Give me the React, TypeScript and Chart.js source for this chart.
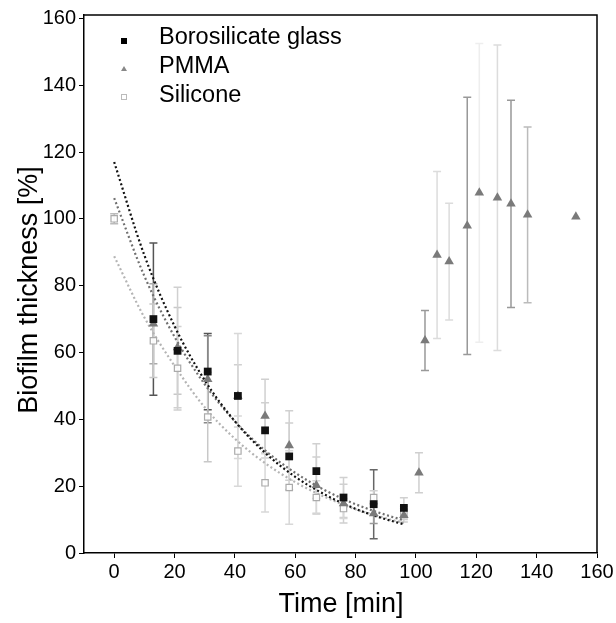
import React, { useEffect, useRef } from 'react';
import { Chart, registerables } from 'chart.js';

Chart.register(...registerables);

const FONT = '"Liberation Sans", Arial, Helvetica, sans-serif';

const xTicks = [0, 20, 40, 60, 80, 100, 120, 140, 160];
const yTicks = [0, 20, 40, 60, 80, 100, 120, 140, 160];

const legendLabels = ['Borosilicate glass', 'PMMA', 'Silicone'];
const xTitle = 'Time [min]';
const yTitle = 'Biofilm thickness [%]';

// Borosilicate glass
const glassTime = [13, 21, 31, 41, 50, 58, 67, 76, 86, 96];
const glassValue = [70, 60.5, 54.3, 47, 36.7, 28.9, 24.5, 16.6, 14.6, 13.5];
const glassError = [22.8, 13, 11.4, 9.3, 8.3, 10, 8.2, 6, 10.3, 3];
const glassErrorColor = ['#555', '#c8c8c8', '#555', '#d0d0d0', '#d0d0d0', '#d0d0d0', '#d0d0d0', '#d0d0d0', '#666', '#d0d0d0'];

// PMMA
const pmmaTime = [13, 21, 31, 41, 50, 58, 67, 76, 86, 96, 101, 103, 107, 111, 117, 121, 127, 131.5, 137, 153];
const pmmaValue = [68.6, 61.5, 52, 47, 41, 32.2, 20.3, 14.8, 11.8, 11.3, 24, 63.6, 89.2, 87.2, 97.9, 107.8, 106.3, 104.5, 101.2, 100.6];
const pmmaError = [12, 18, 13, 18.7, 11, 10.4, 8.4, 5.8, 3, 2, 6, 9, 25, 17.5, 38.5, 44.7, 45.7, 31, 26.3, 0];
const pmmaErrorColor = ['#aaa', '#d0d0d0', '#888', '#d8d8d8', '#d0d0d0', '#d0d0d0', '#d0d0d0', '#d0d0d0', '#999', '#d0d0d0', '#cfcfcf', '#999', '#dcdcdc', '#dcdcdc', '#999', '#eeeeee', '#dcdcdc', '#999', '#bbb', '#ccc'];

// Silicone
const siliconeTime = [0, 13, 21, 31, 41, 50, 58, 67, 76, 86, 96];
const siliconeValue = [100, 63.5, 55.3, 40.7, 30.5, 21, 19.6, 16.6, 13.3, 16.6, 12];
const siliconeError = [1.5, 11, 12.5, 13.4, 10.5, 8.7, 11, 5, 3, 2, 2];
const siliconeErrorColor = ['#bbb', '#c8c8c8', '#d0d0d0', '#c8c8c8', '#d8d8d8', '#d8d8d8', '#d8d8d8', '#d8d8d8', '#d8d8d8', '#d0d0d0', '#d0d0d0'];

// Fitted decay curves
const fitTime = [0, 10, 20, 30, 40, 50, 60, 70, 80, 90, 96];
const glassFit = [117, 89.1, 67.9, 51.7, 39.4, 30.0, 22.8, 17.4, 13.2, 10.1, 8.6];
const pmmaFit = [106.2, 82.9, 64.7, 50.5, 39.4, 30.7, 24.0, 18.7, 14.6, 11.4, 9.8];
const siliconeFit = [88.8, 70.5, 56.0, 43.6, 34.2, 26.9, 21.2, 16.7, 13.1, 10.4, 9.0];

const toXY = (xs: number[], ys: number[]) => xs.map((x, i) => ({ x, y: ys[i] }));

const errorBarPlugin = {
  id: 'errorBars',
  beforeDatasetsDraw(chart: any) {
    const { ctx, scales } = chart;
    const xs = scales.x;
    const ys = scales.y;
    ctx.save();
    chart.data.datasets.forEach((ds: any) => {
      if (!ds.errors) return;
      ds.data.forEach((p: any, i: number) => {
        const e = ds.errors[i];
        if (!e) return;
        const px = xs.getPixelForValue(p.x);
        const y1 = ys.getPixelForValue(p.y + e);
        const y2 = ys.getPixelForValue(p.y - e);
        ctx.strokeStyle = ds.errorColors[i];
        ctx.lineWidth = 1.5;
        ctx.beginPath();
        ctx.moveTo(px, y1);
        ctx.lineTo(px, y2);
        ctx.moveTo(px - 4, y1);
        ctx.lineTo(px + 4, y1);
        ctx.moveTo(px - 4, y2);
        ctx.lineTo(px + 4, y2);
        ctx.stroke();
      });
    });
    ctx.restore();
  },
};

const decorPlugin = {
  id: 'decor',
  afterDraw(chart: any) {
    const { ctx, chartArea } = chart;
    ctx.save();
    // frame top/right
    ctx.strokeStyle = '#000';
    ctx.lineWidth = 1.5;
    ctx.beginPath();
    ctx.moveTo(chartArea.left, chartArea.top);
    ctx.lineTo(chartArea.right, chartArea.top);
    ctx.lineTo(chartArea.right, chartArea.bottom);
    ctx.stroke();

    // axis titles
    ctx.fillStyle = '#000';
    ctx.font = `27px ${FONT}`;
    ctx.textAlign = 'center';
    ctx.textBaseline = 'middle';
    ctx.fillText(xTitle, 341, 605);
    ctx.save();
    ctx.translate(30, 290);
    ctx.rotate(-Math.PI / 2);
    ctx.fillText(yTitle, 0, 0);
    ctx.restore();

    // legend
    const baselines = [44, 73, 102];
    const mx = 124;
    ctx.font = `23.5px ${FONT}`;
    ctx.textAlign = 'left';
    ctx.textBaseline = 'alphabetic';
    legendLabels.forEach((lab, i) => {
      ctx.fillStyle = '#000';
      ctx.fillText(lab, 159, baselines[i]);
    });
    // markers
    let my = baselines[0] - 3;
    ctx.fillStyle = '#000';
    ctx.fillRect(mx - 3, my - 3, 6, 6);
    my = baselines[1] - 4;
    ctx.fillStyle = '#888';
    ctx.beginPath();
    ctx.moveTo(mx, my - 3);
    ctx.lineTo(mx + 3, my + 2);
    ctx.lineTo(mx - 3, my + 2);
    ctx.closePath();
    ctx.fill();
    my = baselines[2] - 5;
    ctx.strokeStyle = '#bbb';
    ctx.lineWidth = 1;
    ctx.strokeRect(mx - 2.5, my - 2.5, 5, 5);
    ctx.restore();
  },
};

export default function App() {
  const ref = useRef<HTMLCanvasElement | null>(null);

  useEffect(() => {
    if (!ref.current) return;
    const chart = new Chart(ref.current, {
      type: 'scatter',
      data: {
        datasets: [
          {
            label: legendLabels[0],
            data: toXY(glassTime, glassValue),
            errors: glassError,
            errorColors: glassErrorColor,
            pointStyle: 'rect',
            pointRadius: 5.5,
            backgroundColor: '#111',
            borderColor: '#111',
            borderWidth: 0,
            order: 1,
          } as any,
          {
            label: legendLabels[1],
            data: toXY(pmmaTime, pmmaValue),
            errors: pmmaError,
            errorColors: pmmaErrorColor,
            pointStyle: 'triangle',
            pointRadius: 5.5,
            backgroundColor: '#7a7a7a',
            borderColor: '#7a7a7a',
            borderWidth: 0,
            order: 2,
          } as any,
          {
            label: legendLabels[2],
            data: toXY(siliconeTime, siliconeValue),
            errors: siliconeError,
            errorColors: siliconeErrorColor,
            pointStyle: 'rect',
            pointRadius: 4.5,
            backgroundColor: 'rgba(255,255,255,0.9)',
            borderColor: '#aaa',
            borderWidth: 1.2,
            order: 3,
          } as any,
          {
            label: 'fit glass',
            data: toXY(fitTime, glassFit),
            showLine: true,
            pointRadius: 0,
            borderColor: '#111',
            borderWidth: 2.2,
            borderDash: [2, 2.5],
            tension: 0.4,
            cubicInterpolationMode: 'monotone',
            order: 4,
          } as any,
          {
            label: 'fit pmma',
            data: toXY(fitTime, pmmaFit),
            showLine: true,
            pointRadius: 0,
            borderColor: '#707070',
            borderWidth: 2.2,
            borderDash: [2, 2.5],
            tension: 0.4,
            cubicInterpolationMode: 'monotone',
            order: 5,
          } as any,
          {
            label: 'fit silicone',
            data: toXY(fitTime, siliconeFit),
            showLine: true,
            pointRadius: 0,
            borderColor: '#b4b4b4',
            borderWidth: 2.2,
            borderDash: [2, 2.5],
            tension: 0.4,
            cubicInterpolationMode: 'monotone',
            order: 6,
          } as any,
        ],
      },
      options: {
        animation: false,
        responsive: false,
        maintainAspectRatio: false,
        layout: { padding: { top: 13, right: 19, left: 0, bottom: 0 } },
        plugins: {
          legend: { display: false },
          tooltip: { enabled: false },
        },
        scales: {
          x: {
            type: 'linear',
            min: -10,
            max: 160,
            afterBuildTicks: (s: any) => {
              s.ticks = xTicks.map((v) => ({ value: v }));
            },
            afterFit: (s: any) => {
              s.height = 70;
            },
            grid: { drawOnChartArea: false, drawTicks: true, tickLength: 5, color: '#000' },
            border: { display: true, color: '#000', width: 1.5 },
            ticks: { color: '#000', font: { family: FONT, size: 20 }, padding: 2, maxRotation: 0 },
          },
          y: {
            type: 'linear',
            min: 0,
            max: 161,
            afterBuildTicks: (s: any) => {
              s.ticks = yTicks.map((v) => ({ value: v }));
            },
            afterFit: (s: any) => {
              s.width = 84;
            },
            grid: { drawOnChartArea: false, drawTicks: true, tickLength: 5, color: '#000' },
            border: { display: true, color: '#000', width: 1.5 },
            ticks: { color: '#000', font: { family: FONT, size: 20 }, padding: 3 },
          },
        },
      } as any,
      plugins: [errorBarPlugin, decorPlugin],
    });
    return () => chart.destroy();
  }, []);

  return (
    <div style={{ position: 'fixed', left: 0, top: 0, width: 616, height: 623, background: '#fff' }}>
      <canvas ref={ref} width={616} height={623} style={{ width: 616, height: 623 }} />
    </div>
  );
}
